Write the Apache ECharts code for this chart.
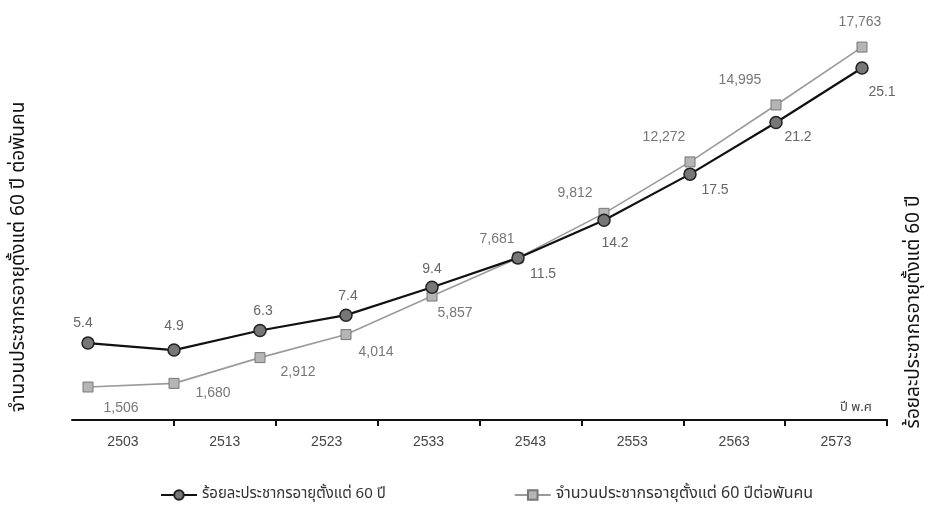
<!DOCTYPE html>
<html><head><meta charset="utf-8">
<script src="https://cdn.jsdelivr.net/npm/echarts@6/dist/echarts.min.js"></script>
<style>html,body{margin:0;padding:0;background:#fff}#c{width:937px;height:512px}</style>
</head><body><div id="c"></div>
<script>
// ---- data ----
const axisYears = ['2503','2513','2523','2533','2543','2553','2563','2573'];
const pointIndex = ['1','2','3','4','5','6','7','8','9','10'];
const percentValues = [5.4, 4.9, 6.3, 7.4, 9.4, 11.5, 14.2, 17.5, 21.2, 25.1];
const countValues = [1506, 1680, 2912, 4014, 5857, 7681, 9812, 12272, 14995, 17763];
const percentName = 'ร้อยละประชากรอายุตั้งแต่ 60 ปี';
const countName = 'จำนวนประชากรอายุตั้งแต่ 60 ปีต่อพันคน';
const leftTitle = 'จำนวนประชากรอายุตั้งแต่ 60 ปี ต่อพันคน';
const rightTitle = 'ร้อยละประชากรอายุตั้งแต่ 60 ปี';
const xUnit = 'ปี พ.ศ';

// ---- label placement (style only) ----
const percentLabelOffsets = [[-5,-20],[0,-24],[3,-19],[2,-19],[0,-18],[25,16],[11,23],[25,16],[22,15],[20,24]];
const countLabelOffsets = [[33,21],[39,10],[38,15],[30,18],[23,17],[-21,-19],[-29,-20],[-26,-25],[-36,-25],[-2,-25]];

const FONT = '"Noto Sans Thai","Noto Sans","Liberation Sans","DejaVu Sans",sans-serif';
const NUMFONT = '"Liberation Sans",Arial,sans-serif';

const chart = echarts.init(document.getElementById('c'), null, {renderer: 'canvas'});
chart.setOption({
  animation: false,
  backgroundColor: '#fff',
  textStyle: {fontFamily: FONT},
  grid: [
    {left: 72, right: 50, top: 27.5, bottom: 92},
    {left: 88, right: 75, top: 27.5, bottom: 93.5}
  ],
  xAxis: [
    {
      type: 'category', gridIndex: 0, data: axisYears, boundaryGap: true,
      axisLine: {lineStyle: {color: '#111', width: 2}},
      axisTick: {show: true, length: 6, lineStyle: {color: '#111', width: 2},
        interval: function (i) { return i !== 0 && i !== axisYears.length; }},
      axisLabel: {color: '#444', fontSize: 14, margin: 15, fontFamily: NUMFONT}
    },
    {
      type: 'category', gridIndex: 1, data: pointIndex, boundaryGap: false,
      show: false
    }
  ],
  yAxis: [
    {type: 'value', gridIndex: 0, show: false, min: 0, max: 1},
    {type: 'value', gridIndex: 1, show: false, min: 0, max: 28},
    {type: 'value', gridIndex: 1, show: false, min: 0, max: 18700}
  ],
  legend: {
    top: 482, left: 155, itemGap: 128, itemWidth: 36, itemHeight: 12,
    textStyle: {color: '#333', fontSize: 15, fontFamily: FONT},
    data: [
      {name: percentName},
      {name: countName, textStyle: {fontSize: 16}}
    ]
  },
  series: [
    {
      name: countName, type: 'line', xAxisIndex: 1, yAxisIndex: 2,
      symbol: 'rect', symbolSize: 10,
      lineStyle: {color: '#9a9a9a', width: 1.6},
      itemStyle: {color: '#b5b5b5', borderColor: '#777', borderWidth: 1},
      label: {show: true, position: 'inside', color: '#777', fontSize: 14,
        fontFamily: NUMFONT,
        formatter: p => p.value.toLocaleString('en-US')},
      data: countValues.map((v, i) => ({value: v, label: {offset: countLabelOffsets[i]}})),
      z: 2
    },
    {
      name: percentName, type: 'line', xAxisIndex: 1, yAxisIndex: 1,
      symbol: 'circle', symbolSize: 12,
      lineStyle: {color: '#111', width: 2.2},
      itemStyle: {color: '#777', borderColor: '#222', borderWidth: 1.5},
      label: {show: true, position: 'inside', color: '#666', fontSize: 14,
        fontFamily: NUMFONT,
        formatter: p => String(p.value)},
      data: percentValues.map((v, i) => ({value: v, label: {offset: percentLabelOffsets[i]}})),
      z: 3
    }
  ],
  graphic: [
    {type: 'text', x: 20, y: 257, rotation: Math.PI / 2,
      style: {text: leftTitle, fill: '#111', font: '19px ' + FONT, textAlign: 'center', textVerticalAlign: 'middle'}},
    {type: 'text', x: 915, y: 312, rotation: Math.PI / 2,
      style: {text: rightTitle, fill: '#111', font: '19px ' + FONT, textAlign: 'center', textVerticalAlign: 'middle'}},
    {type: 'text', x: 856, y: 408,
      style: {text: xUnit, fill: '#444', font: '13px ' + FONT, textAlign: 'center', textVerticalAlign: 'middle'}}
  ]
});
</script>
</body></html>
